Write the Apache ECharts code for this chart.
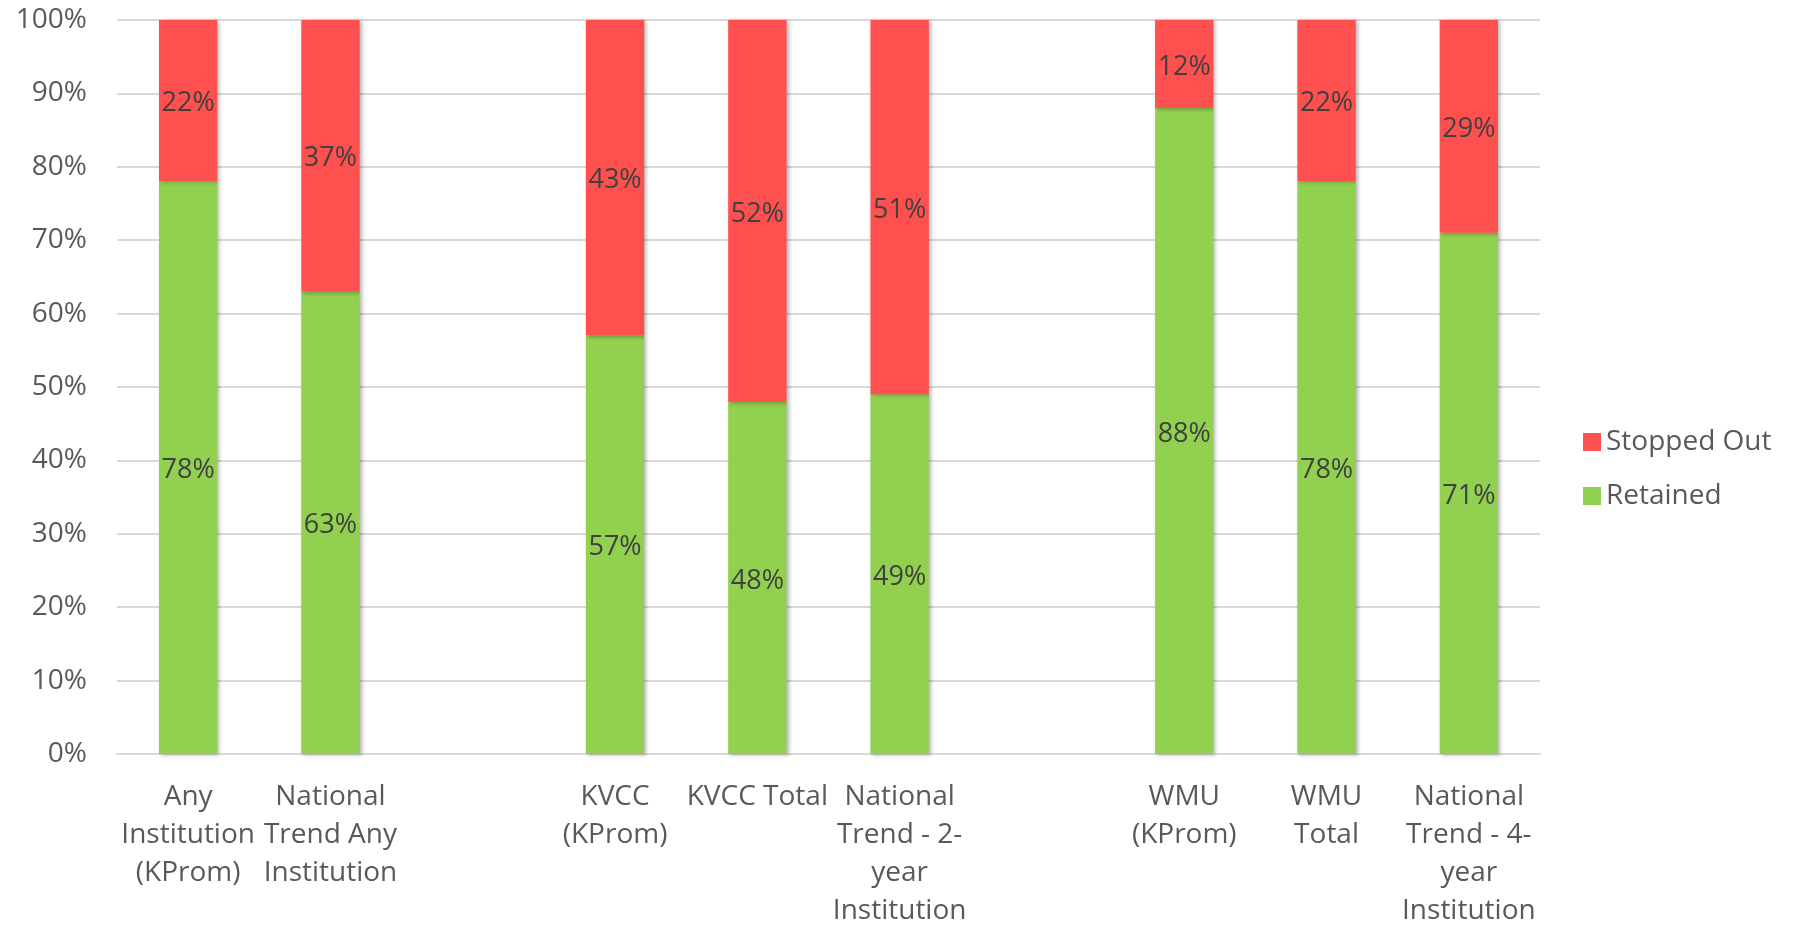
<!DOCTYPE html>
<html>
<head>
<meta charset="utf-8">
<script src="https://cdn.jsdelivr.net/npm/echarts@6/dist/echarts.min.js"></script>
<style>
  html, body { margin: 0; padding: 0; background: #fff; }
  #chart { width: 1793px; height: 927px; }
</style>
</head>
<body>
<div id="chart"></div>
<script>
// categories (blank slots separate the three groups)
var categories = [
  "Any\nInstitution\n(KProm)",
  "National\nTrend Any\nInstitution",
  " ",
  "KVCC\n(KProm)",
  "KVCC Total",
  "National\nTrend - 2-\nyear\nInstitution",
  "  ",
  "WMU\n(KProm)",
  "WMU\nTotal",
  "National\nTrend - 4-\nyear\nInstitution"
];

var retained = [78, 63, "-", 57, 48, 49, "-", 88, 78, 71];
var stoppedOut = [22, 37, "-", 43, 52, 51, "-", 12, 22, 29];

var FONT = "'Open Sans', 'Noto Sans', sans-serif";

var chart = echarts.init(document.getElementById("chart"));

var barShadow = {
  shadowColor: "rgba(0,0,0,0.3)",
  shadowBlur: 4,
  shadowOffsetX: 2,
  shadowOffsetY: 1
};

function segLabel() {
  return {
    show: true,
    position: "inside",
    offset: [0, 3],
    color: "#404040",
    fontSize: 27,
    fontFamily: FONT,
    formatter: function (p) {
      return p.value + "%";
    }
  };
}

var option = {
  backgroundColor: "#ffffff",
  animation: false,
  textStyle: { fontFamily: FONT },
  grid: {
    left: 117,
    right: 253,
    top: 20,
    bottom: 173,
    outerBoundsMode: "none"
  },
  legend: {
    orient: "vertical",
    left: 1578,
    top: 422,
    itemWidth: 18,
    itemHeight: 18,
    itemGap: 24,
    icon: "rect",
    data: ["Stopped Out", "Retained"],
    textStyle: {
      fontSize: 28,
      color: "#595959",
      fontFamily: FONT,
      lineHeight: 30
    }
  },
  xAxis: {
    type: "category",
    data: categories,
    axisTick: { show: false },
    axisLine: { lineStyle: { color: "#d9d9d9", width: 2 } },
    axisLabel: {
      interval: 0,
      color: "#595959",
      fontSize: 28,
      fontFamily: FONT,
      lineHeight: 38,
      margin: 24
    }
  },
  yAxis: {
    type: "value",
    min: 0,
    max: 100,
    interval: 10,
    axisLine: { show: false },
    axisTick: { show: false },
    splitLine: { lineStyle: { color: "#d9d9d9", width: 2 } },
    axisLabel: {
      formatter: "{value}%",
      color: "#595959",
      fontSize: 28,
      fontFamily: FONT,
      margin: 30
    }
  },
  series: [
    {
      name: "Retained",
      type: "bar",
      stack: "total",
      barWidth: "41%",
      data: retained,
      itemStyle: Object.assign({ color: "#92D050" }, barShadow),
      label: segLabel()
    },
    {
      name: "Stopped Out",
      type: "bar",
      stack: "total",
      barWidth: "41%",
      data: stoppedOut,
      itemStyle: Object.assign({ color: "#FF5050" }, barShadow),
      label: segLabel()
    }
  ]
};

chart.setOption(option);
</script>
</body>
</html>
